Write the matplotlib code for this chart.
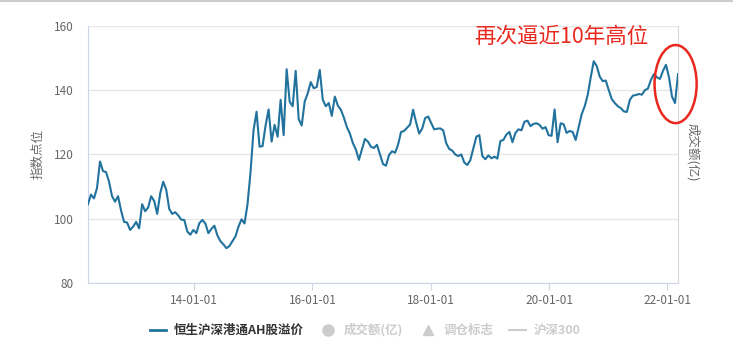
import pandas as pd
import matplotlib
matplotlib.use("Agg")
import matplotlib.dates as mdates
from matplotlib import pyplot as plt
from matplotlib.lines import Line2D
from matplotlib.patches import Ellipse

plt.rcParams["font.family"] = ["Noto Sans CJK SC", "DejaVu Sans"]

# AH premium index (roughly every 18 days)
start_date = "2012-03-15"
end_date = "2022-03-08"
premium = [
    104.5, 107.5, 106.3, 109.5, 117.8, 114.8, 114.5, 111.5, 107.0, 105.3,
    107.0, 102.5, 99.0, 98.8, 96.5, 97.5, 99.0, 97.0, 104.5, 102.3,
    103.5, 107.0, 105.5, 101.5, 107.9, 111.5, 109.0, 103.0, 101.5, 102.0,
    101.0, 99.7, 99.6, 96.0, 95.0, 96.5, 95.5, 98.6, 99.6, 98.5,
    95.5, 96.8, 97.8, 94.8, 93.0, 92.0, 90.8, 91.5, 93.0, 94.5,
    97.5, 99.8, 98.5, 104.5, 114.5, 127.5, 133.3, 122.4, 122.6, 129.0,
    134.0, 124.0, 129.2, 125.5, 137.0, 126.0, 146.5, 136.4, 135.0, 146.0,
    131.0, 129.0, 136.5, 139.0, 142.5, 140.6, 141.0, 146.3, 137.0, 135.0,
    136.0, 132.0, 138.0, 135.2, 133.9, 131.5, 128.5, 126.5, 123.5, 121.5,
    118.3, 121.5, 124.8, 124.0, 122.4, 122.0, 123.0, 120.0, 117.0, 116.5,
    119.8, 121.0, 120.5, 123.0, 127.0, 127.3, 128.3, 129.3, 133.9, 130.0,
    126.5, 128.0, 131.3, 131.8, 129.8, 127.8, 128.0, 128.1, 127.5, 123.5,
    121.7, 121.2, 120.0, 119.5, 120.0, 117.5, 116.7, 118.2, 121.8, 125.5,
    126.0, 119.5, 118.5, 119.7, 118.8, 119.3, 118.7, 124.2, 124.5, 126.2,
    127.0, 123.8, 126.7, 127.8, 127.5, 130.2, 130.5, 128.8, 129.5, 129.7,
    129.2, 128.0, 128.5, 126.0, 125.8, 134.0, 123.8, 129.7, 129.4, 126.7,
    127.3, 127.0, 124.5, 128.5, 132.5, 135.0, 138.5, 144.0, 149.0, 147.5,
    144.2, 142.8, 143.0, 140.0, 137.2, 136.0, 135.0, 134.4, 133.4, 133.2,
    137.0, 138.3, 138.5, 138.8, 138.6, 140.0, 140.5, 143.2, 145.0, 144.0,
    143.5, 146.0, 147.9, 144.0, 138.0, 136.0, 145.0,
]
dates = pd.date_range(start_date, end_date, periods=len(premium))

tick_dates = ["2014-01-01", "2016-01-01", "2018-01-01", "2020-01-01", "2022-01-01"]
y_ticks = [80, 100, 120, 140, 160]

legend_labels = ["恒生沪深港通AH股溢价", "成交额(亿)", "调仓标志", "沪深300"]
note = "再次逼近10年高位"

line_color = "#21739e"
axis_color = "#ccd6eb"
grid_color = "#e6e6e6"
text_color = "#666666"

fig = plt.figure(figsize=(7.33, 3.55), dpi=100)
ax = fig.add_axes([0.12, 0.203, 0.805, 0.724])

ax.plot(dates, premium, color=line_color, linewidth=1.5, zorder=3)

ax.set_xlim(dates[0], dates[-1])
ax.set_ylim(80, 160)
ax.set_yticks(y_ticks)
ax.set_xticks(pd.to_datetime(tick_dates))
ax.xaxis.set_major_formatter(mdates.DateFormatter("%y-%m-%d"))

ax.grid(axis="y", color=grid_color, linewidth=0.9)
ax.set_axisbelow(True)
ax.spines["top"].set_visible(False)
for side in ["left", "bottom"]:
    ax.spines[side].set_color(axis_color)
ax.spines["right"].set_color("#d8d8d8")

ax.tick_params(axis="y", length=0, pad=10, labelsize=8.5, labelcolor=text_color)
ax.tick_params(axis="x", length=5, color=axis_color, pad=3, labelsize=8.5,
               labelcolor=text_color)

ax.set_ylabel("指数点位", color=text_color, fontsize=9, labelpad=7)
ax.text(1.025, 0.51, "成交额(亿)", transform=ax.transAxes, rotation=270,
        ha="center", va="center", color=text_color, fontsize=9)

# red note and circle
ax.text(0.655, 0.955, note, transform=ax.transAxes, color="#e8281e",
        fontsize=15.5, ha="left", va="center")
ell = Ellipse((mdates.date2num(dates[-1]) - 15, 141.9), width=260, height=24.3,
              fill=False, edgecolor="#e8281e", linewidth=1.8, clip_on=False,
              zorder=4)
ax.add_patch(ell)

handles = [
    Line2D([], [], color=line_color, linewidth=2),
    Line2D([], [], color="#cccccc", marker="o", linestyle="none", markersize=8),
    Line2D([], [], color="#cccccc", marker="^", linestyle="none", markersize=7),
    Line2D([], [], color="#cccccc", linewidth=1.5),
]
leg = fig.legend(handles, legend_labels, loc="center", bbox_to_anchor=(0.498, 0.07),
                 ncol=4, frameon=False, handlelength=1.3,
                 columnspacing=1.3, handletextpad=0.6,
                 prop={"weight": "bold", "size": 9})
for i, t in enumerate(leg.get_texts()):
    t.set_color("#333333" if i == 0 else "#cccccc")

fig.add_artist(Line2D([0, 1], [0.997, 0.997], color="#cccccc", linewidth=1.5))

plt.savefig("out.png", dpi=100)
